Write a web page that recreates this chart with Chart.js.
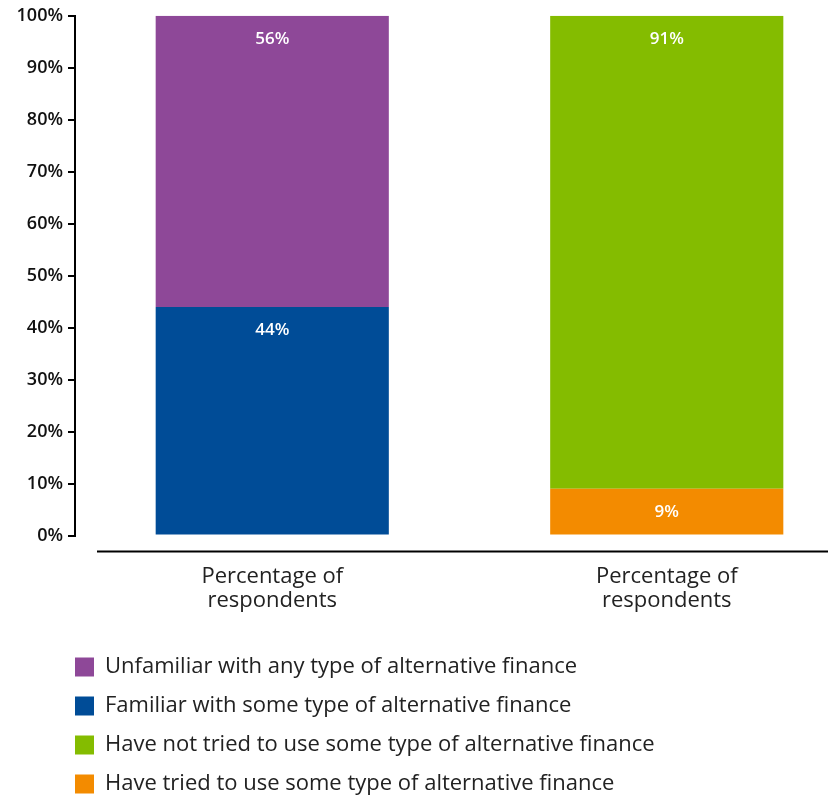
<!DOCTYPE html>
<html>
<head>
<meta charset="utf-8">
<script src="https://cdn.jsdelivr.net/npm/chart.js@4"></script>
<style>
  html, body { margin: 0; padding: 0; background: #fff; overflow: hidden; }
  #wrap { width: 864px; height: 796px; }
</style>
</head>
<body>
<div id="wrap"><canvas id="Chart" width="864" height="796"></canvas></div>
<script>
// data
var categories = [['Percentage of', 'respondents'], ['Percentage of', 'respondents']];
var seriesNames = [
  'Have tried to use some type of alternative finance',
  'Have not tried to use some type of alternative finance',
  'Familiar with some type of alternative finance',
  'Unfamiliar with any type of alternative finance'
];
var triedValues = [null, 9];
var notTriedValues = [null, 91];
var familiarValues = [44, null];
var unfamiliarValues = [56, null];
var yTicks = [0, 10, 20, 30, 40, 50, 60, 70, 80, 90, 100];

var colors = ['#F38B00', '#84BC00', '#004C97', '#8E4898'];
var fontFamily = '"Open Sans", sans-serif';
var legendPad = 17;

// labels inside the bar segments
var segmentLabels = {
  id: 'segmentLabels',
  afterDatasetsDraw: function (chart) {
    var ctx = chart.ctx;
    ctx.save();
    ctx.fillStyle = '#fff';
    ctx.font = '600 17px ' + fontFamily;
    ctx.textAlign = 'center';
    ctx.textBaseline = 'middle';
    chart.data.datasets.forEach(function (ds, i) {
      var meta = chart.getDatasetMeta(i);
      meta.data.forEach(function (bar, j) {
        if (ds.data[j] == null) return;
        ctx.fillText(ds.data[j] + '%', bar.x, bar.y + 23);
      });
    });
    ctx.restore();
  }
};

// baseline under the bars, legend pushed in line with the y axis
var baseLine = {
  id: 'baseLine',
  afterLayout: function (chart) {
    chart.legend.left = chart.chartArea.left - legendPad;
  },
  afterDraw: function (chart) {
    var ctx = chart.ctx;
    var y = chart.chartArea.bottom + 16;
    ctx.save();
    ctx.strokeStyle = '#000';
    ctx.lineWidth = 2;
    ctx.beginPath();
    ctx.moveTo(chart.chartArea.left + 22, y);
    ctx.lineTo(chart.width, y);
    ctx.stroke();
    ctx.restore();
  }
};

var ctx = document.getElementById('Chart').getContext('2d');
var myChart = new Chart(ctx, {
  type: 'bar',
  data: {
    labels: categories,
    datasets: [
      { label: seriesNames[0], data: triedValues, backgroundColor: colors[0] },
      { label: seriesNames[1], data: notTriedValues, backgroundColor: colors[1] },
      { label: seriesNames[2], data: familiarValues, backgroundColor: colors[2] },
      { label: seriesNames[3], data: unfamiliarValues, backgroundColor: colors[3] }
    ]
  },
  options: {
    responsive: false,
    animation: false,
    categoryPercentage: 1,
    barPercentage: 0.591,
    layout: { padding: { left: 0, top: 15, right: 0, bottom: -9 } },
    plugins: {
      tooltip: { enabled: false },
      legend: {
        position: 'bottom',
        align: 'start',
        reverse: true,
        labels: {
          boxWidth: 19,
          boxHeight: 19,
          padding: legendPad,
          color: '#222',
          font: { family: fontFamily, size: 22 }
        }
      }
    },
    scales: {
      x: {
        stacked: true,
        offset: true,
        grid: { display: false, drawTicks: false },
        border: { display: false },
        afterFit: function (scale) { scale.height = scale.height - 3; },
        ticks: {
          padding: 29,
          color: '#222',
          font: { family: fontFamily, size: 22, lineHeight: 1.1 }
        }
      },
      y: {
        stacked: true,
        min: 0,
        max: 100,
        afterFit: function (scale) { scale.width = 75; },
        afterBuildTicks: function (scale) {
          scale.ticks = yTicks.map(function (v) { return { value: v }; });
        },
        grid: { drawOnChartArea: false, drawTicks: true, tickLength: 7, color: '#000', lineWidth: 2 },
        border: { display: true, color: '#000', width: 2 },
        ticks: {
          padding: 5,
          color: '#111',
          font: { family: fontFamily, size: 18, weight: '600' },
          callback: function (v) { return v + '%'; }
        }
      }
    }
  },
  plugins: [segmentLabels, baseLine]
});
</script>
</body>
</html>
